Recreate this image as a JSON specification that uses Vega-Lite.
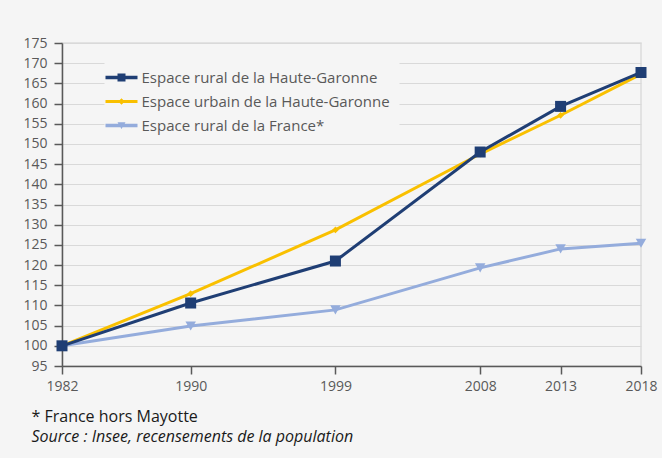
{
  "$schema": "https://vega.github.io/schema/vega-lite/v6.json",
  "autosize": {"type": "none"},
  "width": 579,
  "height": 323,
  "padding": {"left": 62, "top": 43, "right": 21, "bottom": 92},
  "background": "#f5f5f5",
  "config": {
    "font": "Open Sans",
    "view": {"stroke": "#dcdcdc", "strokeWidth": 1.5}
  },
  "title": {
    "text": "* France hors Mayotte",
    "subtitle": "Source : Insee, recensements de la population",
    "orient": "bottom",
    "anchor": "start",
    "dx": 8.5,
    "offset": 16,
    "font": "Open Sans",
    "fontSize": 16,
    "fontWeight": "normal",
    "color": "#1a1a1a",
    "subtitleFont": "Open Sans",
    "subtitleFontSize": 16,
    "subtitleFontStyle": "italic",
    "subtitleColor": "#1a1a1a",
    "subtitlePadding": 4
  },
  "data": {
    "values": [
      {"annee": 1982, "serie": "Espace rural de la France*", "indice": 100},
      {"annee": 1990, "serie": "Espace rural de la France*", "indice": 104.9},
      {"annee": 1999, "serie": "Espace rural de la France*", "indice": 108.9},
      {"annee": 2008, "serie": "Espace rural de la France*", "indice": 119.3},
      {"annee": 2013, "serie": "Espace rural de la France*", "indice": 124.0},
      {"annee": 2018, "serie": "Espace rural de la France*", "indice": 125.4},
      {"annee": 1982, "serie": "Espace urbain de la Haute-Garonne", "indice": 100},
      {"annee": 1990, "serie": "Espace urbain de la Haute-Garonne", "indice": 112.9},
      {"annee": 1999, "serie": "Espace urbain de la Haute-Garonne", "indice": 128.7},
      {"annee": 2008, "serie": "Espace urbain de la Haute-Garonne", "indice": 147.5},
      {"annee": 2013, "serie": "Espace urbain de la Haute-Garonne", "indice": 157.1},
      {"annee": 2018, "serie": "Espace urbain de la Haute-Garonne", "indice": 167.3},
      {"annee": 1982, "serie": "Espace rural de la Haute-Garonne", "indice": 100},
      {"annee": 1990, "serie": "Espace rural de la Haute-Garonne", "indice": 110.6},
      {"annee": 1999, "serie": "Espace rural de la Haute-Garonne", "indice": 121.0},
      {"annee": 2008, "serie": "Espace rural de la Haute-Garonne", "indice": 148.0},
      {"annee": 2013, "serie": "Espace rural de la Haute-Garonne", "indice": 159.3},
      {"annee": 2018, "serie": "Espace rural de la Haute-Garonne", "indice": 167.7}
    ]
  },
  "encoding": {
    "x": {
      "field": "annee",
      "type": "quantitative",
      "scale": {"domain": [1982, 2018], "nice": false, "zero": false},
      "axis": {
        "title": null,
        "values": [1982, 1990, 1999, 2008, 2013, 2018],
        "format": "d",
        "grid": false,
        "domainColor": "#595959",
        "domainWidth": 1.5,
        "tickColor": "#595959",
        "tickWidth": 1.5,
        "tickSize": 8,
        "labelFontSize": 14,
        "labelColor": "#595959",
        "labelPadding": 5,
        "labelFlush": false
      }
    },
    "y": {
      "field": "indice",
      "type": "quantitative",
      "scale": {"domain": [95, 175], "nice": false, "zero": false},
      "axis": {
        "title": null,
        "values": [95, 100, 105, 110, 115, 120, 125, 130, 135, 140, 145, 150, 155, 160, 165, 170, 175],
        "grid": true,
        "gridColor": "#d9d9d9",
        "gridWidth": 1.2,
        "domainColor": "#595959",
        "domainWidth": 1.5,
        "tickColor": "#595959",
        "tickWidth": 1.5,
        "tickSize": 8,
        "labelFontSize": 14,
        "labelColor": "#595959",
        "labelPadding": 7
      }
    },
    "color": {
      "field": "serie",
      "type": "nominal",
      "scale": {
        "domain": ["Espace rural de la Haute-Garonne", "Espace urbain de la Haute-Garonne", "Espace rural de la France*"],
        "range": ["#1f3e74", "#f9c000", "#94acdc"]
      },
      "legend": {
        "title": null,
        "orient": "none",
        "legendX": 42.5,
        "legendY": 17.5,
        "padding": 9,
        "fillColor": "#f5f5f5",
        "symbolSize": 256,
        "symbolOpacity": 1,
        "symbolStrokeWidth": 0,
        "labelFontSize": 15,
        "labelColor": "#595959",
        "labelOffset": 12,
        "rowPadding": 8,
        "labelLimit": 400
      }
    },
    "order": {"field": "annee"}
  },
  "layer": [
    {
      "transform": [{"filter": "datum.annee < 0"}],
      "mark": {"type": "point", "filled": true, "opacity": 1, "size": 256},
      "encoding": {
        "shape": {
          "field": "serie",
          "type": "nominal",
          "scale": {
            "domain": ["Espace rural de la Haute-Garonne", "Espace urbain de la Haute-Garonne", "Espace rural de la France*"],
            "range": [
              "M-2,-0.22H2V0.22H-2Z M-0.5,-0.5H0.5V0.5H-0.5Z",
              "M-2,-0.2H2V0.2H-2Z M0,-0.4L0.4,0L0,0.4L-0.4,0Z",
              "M-2,-0.22H2V0.22H-2Z M-0.5,-0.4H0.5L0,0.45Z"
            ]
          }
        }
      }
    },
    {
      "mark": {"type": "line", "strokeWidth": 3},
      "encoding": {
        "detail": {"field": "serie"}
      }
    },
    {
      "transform": [{"filter": "datum.serie == 'Espace rural de la France*'"}],
      "mark": {"type": "point", "filled": true, "opacity": 1, "shape": "triangle-down", "size": 110}
    },
    {
      "transform": [{"filter": "datum.serie == 'Espace urbain de la Haute-Garonne'"}],
      "mark": {"type": "point", "filled": true, "opacity": 1, "shape": "diamond", "size": 45}
    },
    {
      "transform": [{"filter": "datum.serie == 'Espace rural de la Haute-Garonne'"}],
      "mark": {"type": "point", "filled": true, "opacity": 1, "shape": "square", "size": 121}
    }
  ]
}
